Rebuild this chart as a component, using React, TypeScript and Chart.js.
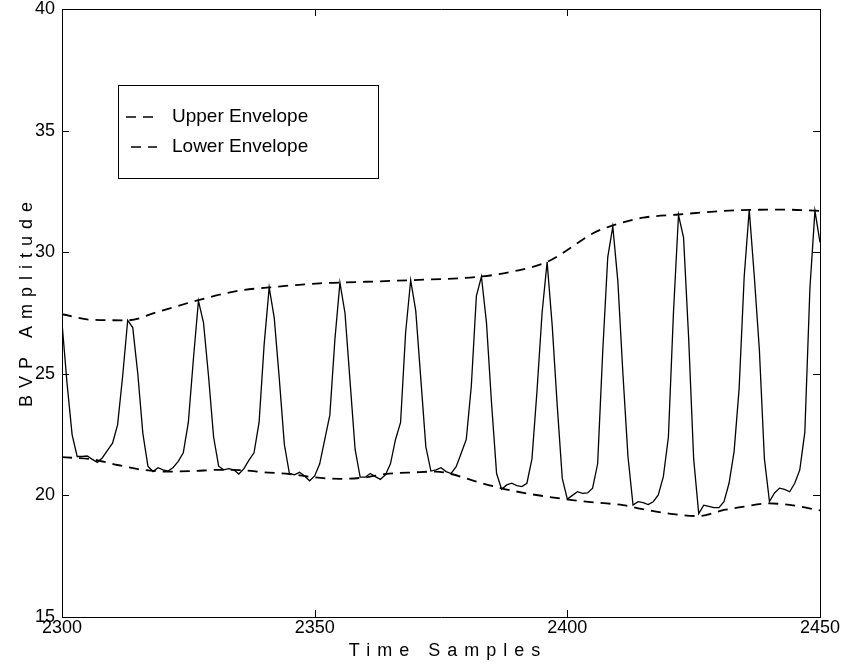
import React, { useEffect, useRef } from "react";
import { Chart, registerables } from "chart.js";

Chart.register(...registerables);

// ---------- data ----------
const SAMPLE_START = 2300;

// BVP signal, one value per time sample from 2300 to 2450
const BVP_VALUES = [
  27.1, 24.6, 22.5, 21.6, 21.6, 21.62, 21.48, 21.36, 21.55, 21.85,
  22.15, 22.9, 24.9, 27.2, 26.9, 25.0, 22.55, 21.2, 20.98, 21.14,
  21.05, 21.0, 21.15, 21.4, 21.75, 23.0, 25.6, 28.0, 27.1, 24.9,
  22.4, 21.2, 21.05, 21.1, 21.05, 20.88, 21.1, 21.45, 21.75, 23.0,
  26.2, 28.55, 27.3, 24.8, 22.1, 20.9, 20.85, 20.95, 20.8, 20.6,
  20.8, 21.3, 22.3, 23.3, 26.4, 28.75, 27.5, 24.7, 21.9, 20.75,
  20.75, 20.9, 20.77, 20.66, 20.84, 21.3, 22.3, 23.0, 26.7, 28.85,
  27.6, 24.8, 22.0, 21.0, 21.05, 21.14, 20.98, 20.9, 21.18, 21.73,
  22.3, 24.5, 28.2, 29.0, 27.1, 23.8, 20.9, 20.25, 20.43, 20.5,
  20.4, 20.36, 20.5, 21.5, 24.3, 27.5, 29.6, 27.0, 23.7, 20.7,
  19.85, 20.0, 20.15, 20.08, 20.1, 20.3, 21.3, 25.9, 29.8, 31.05,
  28.8, 25.0, 21.6, 19.6, 19.74, 19.7, 19.62, 19.74, 20.02, 20.77,
  22.4, 27.5, 31.53, 30.6, 26.5, 21.5, 19.25, 19.6, 19.55, 19.5,
  19.5, 19.74, 20.5, 21.8, 24.4, 29.0, 31.74, 29.0, 26.0, 21.5,
  19.75, 20.1, 20.3, 20.25, 20.15, 20.5, 21.05, 22.6, 28.5, 31.7,
  30.4,
];

// Upper envelope knots
const UPPER_X = [2300, 2306, 2313, 2319, 2327, 2335, 2341, 2351, 2355, 2369, 2383, 2390, 2396, 2399, 2405, 2409, 2415, 2422, 2429, 2436, 2443, 2450];
const UPPER_Y = [27.45, 27.22, 27.2, 27.55, 28.03, 28.42, 28.55, 28.72, 28.75, 28.85, 29.0, 29.24, 29.6, 29.95, 30.77, 31.1, 31.42, 31.55, 31.67, 31.74, 31.75, 31.7];

// Lower envelope knots
const LOWER_X = [2300, 2306, 2311, 2316, 2321, 2326, 2331, 2336, 2340, 2345, 2350, 2355, 2360, 2364, 2370, 2374, 2377, 2382, 2387, 2392, 2396, 2401, 2406, 2411, 2414, 2421, 2426, 2431, 2435, 2440, 2445, 2450];
const LOWER_Y = [21.57, 21.48, 21.25, 21.05, 20.98, 21.0, 21.05, 21.03, 20.95, 20.88, 20.74, 20.68, 20.74, 20.88, 20.95, 20.98, 20.88, 20.57, 20.29, 20.08, 19.95, 19.81, 19.7, 19.6, 19.47, 19.23, 19.15, 19.4, 19.54, 19.67, 19.58, 19.38];

const X_MIN = 2300;
const X_MAX = 2450;
const X_STEP = 50;
const Y_MIN = 15;
const Y_MAX = 40;
const Y_STEP = 5;

const X_TITLE = "Time Samples";
const Y_TITLE = "BVP Amplitude";
const SERIES_NAMES = ["BVP", "Upper Envelope", "Lower Envelope"];

const FONT = "'Liberation Sans', Arial, Helvetica, sans-serif";

const framePlugin = {
  id: "matlabFrame",
  afterDraw(chart: any) {
    const { ctx, chartArea: a, scales } = chart;
    const xs = scales.x;
    const ys = scales.y;
    ctx.save();
    ctx.strokeStyle = "#000";
    ctx.lineWidth = 1;
    ctx.setLineDash([]);
    ctx.beginPath();
    // top and right sides of the box
    ctx.moveTo(a.left, Math.round(a.top) + 0.5);
    ctx.lineTo(a.right + 1, Math.round(a.top) + 0.5);
    ctx.moveTo(Math.round(a.right) + 0.5, a.top);
    ctx.lineTo(Math.round(a.right) + 0.5, a.bottom);
    const tl = 7;
    xs.ticks.forEach((t: any) => {
      const px = Math.round(xs.getPixelForValue(t.value)) + 0.5;
      ctx.moveTo(px, a.bottom);
      ctx.lineTo(px, a.bottom - tl);
      ctx.moveTo(px, a.top);
      ctx.lineTo(px, a.top + tl);
    });
    ys.ticks.forEach((t: any) => {
      const py = Math.round(ys.getPixelForValue(t.value)) + 0.5;
      ctx.moveTo(a.left, py);
      ctx.lineTo(a.left + tl, py);
      ctx.moveTo(a.right, py);
      ctx.lineTo(a.right - tl, py);
    });
    ctx.stroke();

    // axis titles (letter-spaced like the original)
    ctx.fillStyle = "#000";
    ctx.font = `18px ${FONT}`;
    ctx.textAlign = "center";
    ctx.textBaseline = "middle";
    (ctx as any).letterSpacing = "7px";
    ctx.fillText(X_TITLE, (a.left + a.right) / 2 + 7, 651);
    ctx.save();
    ctx.translate(27, (a.top + a.bottom) / 2 - 12);
    ctx.rotate(-Math.PI / 2);
    ctx.fillText(Y_TITLE, 0, 0);
    ctx.restore();
    (ctx as any).letterSpacing = "0px";

    // legend box
    const lx = a.left + 56;
    const ly = a.top + 76;
    const lw = 260;
    const lh = 93;
    ctx.fillStyle = "#fff";
    ctx.fillRect(lx, ly, lw, lh);
    ctx.strokeStyle = "#000";
    ctx.lineWidth = 1;
    ctx.strokeRect(lx + 0.5, ly + 0.5, lw, lh);
    const ds = chart.data.datasets;
    const rows = [ds[1], ds[2]];
    rows.forEach((d: any, i: number) => {
      const y = ly + 32 + i * 30;
      ctx.strokeStyle = d.borderColor;
      ctx.lineWidth = 1.6;
      ctx.setLineDash(d.borderDash);
      ctx.lineDashOffset = i === 0 ? 0 : 12;
      ctx.beginPath();
      ctx.moveTo(lx + 8, y);
      ctx.lineTo(lx + 39, y);
      ctx.stroke();
      ctx.setLineDash([]);
      ctx.fillStyle = "#000";
      ctx.font = `19px ${FONT}`;
      ctx.textAlign = "left";
      ctx.textBaseline = "middle";
      ctx.fillText(d.label, lx + 54, y);
    });
    ctx.restore();
  },
};

export default function App() {
  const canvasRef = useRef<HTMLCanvasElement | null>(null);

  useEffect(() => {
    if (!canvasRef.current) return;
    const signal = BVP_VALUES.map((v, i) => ({ x: SAMPLE_START + i, y: v }));
    const upper = UPPER_X.map((x, i) => ({ x, y: UPPER_Y[i] }));
    const lower = LOWER_X.map((x, i) => ({ x, y: LOWER_Y[i] }));

    const chart = new Chart(canvasRef.current, {
      type: "scatter",
      data: {
        datasets: [
          {
            label: SERIES_NAMES[0],
            data: signal,
            showLine: true,
            borderColor: "#000",
            borderWidth: 1.3,
            pointRadius: 0,
            tension: 0,
          },
          {
            label: SERIES_NAMES[1],
            data: upper,
            showLine: true,
            borderColor: "#000",
            borderWidth: 1.8,
            borderDash: [10, 7],
            pointRadius: 0,
            cubicInterpolationMode: "monotone",
          },
          {
            label: SERIES_NAMES[2],
            data: lower,
            showLine: true,
            borderColor: "#000",
            borderWidth: 1.8,
            borderDash: [10, 7],
            pointRadius: 0,
            cubicInterpolationMode: "monotone",
          },
        ] as any,
      },
      options: {
        animation: false,
        responsive: true,
        maintainAspectRatio: false,
        layout: { padding: { top: 9, right: 27, left: 0, bottom: 0 } },
        plugins: {
          legend: { display: false },
          tooltip: { enabled: false },
          title: { display: false },
        },
        scales: {
          x: {
            type: "linear",
            min: X_MIN,
            max: X_MAX,
            grid: { display: false, drawTicks: false },
            border: { display: true, color: "#000", width: 1 },
            ticks: {
              stepSize: X_STEP,
              color: "#000",
              padding: 2,
              maxRotation: 0,
              font: { family: FONT, size: 18, lineHeight: 1 },
              callback: (v: any) => String(v),
            },
            afterFit: (s: any) => {
              s.height = 50;
              s.paddingLeft = 0;
              s.paddingRight = 0;
            },
          },
          y: {
            type: "linear",
            min: Y_MIN,
            max: Y_MAX,
            grid: { display: false, drawTicks: false },
            border: { display: true, color: "#000", width: 1 },
            ticks: {
              stepSize: Y_STEP,
              color: "#000",
              padding: 7,
              font: { family: FONT, size: 18, lineHeight: 1 },
              callback: (v: any) => String(v),
            },
            afterFit: (s: any) => {
              s.width = 62;
              s.paddingTop = 0;
              s.paddingBottom = 0;
            },
          },
        },
      },
      plugins: [framePlugin],
    });
    return () => chart.destroy();
  }, []);

  return (
    <div
      style={{
        position: "fixed",
        left: 0,
        top: 0,
        width: 847,
        height: 667,
        background: "#fff",
      }}
    >
      <canvas ref={canvasRef} />
    </div>
  );
}
